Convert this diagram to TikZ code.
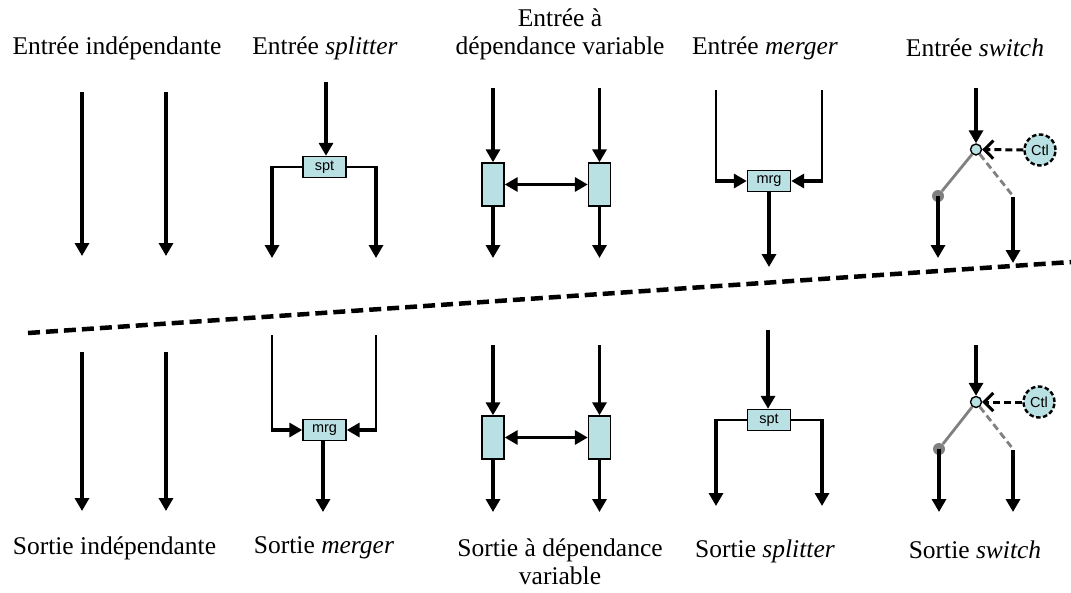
\documentclass[tikz,border=0pt]{standalone}
\usepackage{fontspec}
\setmainfont{Liberation Serif}
\newfontfamily\arialf{Liberation Sans}
\usetikzlibrary{arrows.meta}
\definecolor{boxblue}{RGB}{185,224,226}
\definecolor{swgrey}{RGB}{128,128,128}
\begin{document}
\begin{tikzpicture}[x=1pt,y=-1pt,
  flow/.style={line width=3.8pt,-{Triangle[width=14pt,length=13pt]}},
  wire/.style={line width=2.2pt},
  dflow/.style={line width=3.4pt,{Triangle[width=14pt,length=13pt]}-{Triangle[width=14pt,length=13pt]}},
  blk/.style={draw,line width=1.4pt,fill=boxblue,inner sep=0pt,font=\arialf\fontsize{14.5}{15}\selectfont},
  hblk/.style={blk,minimum width=43pt,minimum height=21pt},
  vblk/.style={blk,minimum width=22pt,minimum height=43pt},
  swc/.style={circle,draw,line width=1.4pt,fill=boxblue,inner sep=0pt,minimum size=11pt},
  ctl/.style={circle,draw,dash pattern=on 4.5pt off 2.5pt,line width=2.4pt,fill=boxblue,inner sep=0pt,minimum size=31pt,font=\arialf\fontsize{14.5}{15}\selectfont},
  gdot/.style={circle,fill=swgrey,inner sep=0pt,minimum size=12pt},
  ctlarrow/.style={line width=3pt,dash pattern=on 7pt off 4pt,-{Straight Barb[length=9pt,width=18pt]}},
  gline/.style={swgrey,line width=2.8pt},
  gdash/.style={swgrey,line width=2.8pt,dash pattern=on 7pt off 4pt},
  lbl/.style={font=\fontsize{25.5}{28}\selectfont,align=center,inner sep=0pt},
]
\useasboundingbox (0,0) rectangle (1071,592);

% ---------- titles ----------
\node[lbl] (t1) at (117,48) {Entrée indépendante};
\node[lbl] (t2) at (325,48) {Entrée \textit{splitter}};
\node[lbl] (t3) at (560,34) {Entrée à\\dépendance variable};
\node[lbl] (t4) at (765,48) {Entrée \textit{merger}};
\node[lbl] (t5) at (975,48) {Entrée \textit{switch}};

\node[lbl] (b1) at (114.5,548) {Sortie indépendante};
\node[lbl] (b2) at (324,548) {Sortie \textit{merger}};
\node[lbl] (b3) at (560,562) {Sortie à dépendance\\variable};
\node[lbl] (b4) at (765,551) {Sortie \textit{splitter}};
\node[lbl] (b5) at (975,550) {Sortie \textit{switch}};

% ---------- separator ----------
\coordinate (sepL) at (28,333);
\coordinate (sepR) at (1071,262);
\draw[line width=4.5pt,dash pattern=on 12pt off 6pt] (sepL) -- (sepR);

% ================= TOP =================
% independent
\coordinate (i1a) at (82,92);  \coordinate (i1b) at (82,256);
\coordinate (i2a) at (166,92); \coordinate (i2b) at (166,256);
\draw[flow] (i1a) -- (i1b);
\draw[flow] (i2a) -- (i2b);

% splitter
\node[hblk] (spt1) at (324.5,167) {spt};
\coordinate (s1in) at (326,82);
\coordinate (s1lc) at (272,167); \coordinate (s1l) at (272,258);
\coordinate (s1rc) at (376,167); \coordinate (s1r) at (376,258);
\draw[flow] (s1in) -- (s1in |- spt1.north);
\draw[wire] (spt1.west) -- ([xshift=-1.9pt]s1lc);
\draw[wire] (spt1.east) -- ([xshift=1.9pt]s1rc);
\draw[flow] ([yshift=-1.1pt]s1lc) -- (s1l);
\draw[flow] ([yshift=-1.1pt]s1rc) -- (s1r);

% variable dependency
\node[vblk] (vd1) at (493,184.5) {};
\node[vblk] (vd2) at (599.5,184.5) {};
\coordinate (v1in) at (493,88);  \coordinate (v1out) at (493,258);
\coordinate (v2in) at (599.5,88); \coordinate (v2out) at (599.5,258);
\draw[flow] (v1in) -- (vd1.north);
\draw[flow] (v2in) -- (vd2.north);
\draw[flow] (vd1.south) -- (v1out);
\draw[flow] (vd2.south) -- (v2out);
\draw[dflow] (vd1.east) -- (vd2.west);

% merger
\node[hblk] (mrg1) at (769,181) {mrg};
\coordinate (m1lt) at (716,90); \coordinate (m1lc) at (716,181);
\coordinate (m1rt) at (822,90); \coordinate (m1rc) at (822,181);
\coordinate (m1out) at (769,267);
\draw[wire] (m1lt) -- ([yshift=1.9pt]m1lc);
\draw[wire] (m1rt) -- ([yshift=1.9pt]m1rc);
\draw[flow] ([xshift=-1.1pt]m1lc) -- (mrg1.west);
\draw[flow] ([xshift=1.1pt]m1rc) -- (mrg1.east);
\draw[flow] (mrg1.south) -- (m1out);

% switch
\node[swc] (sw1) at (976,149.5) {};
\node[ctl] (ctl1) at (1040,150) {Ctl};
\node[gdot] (gd1) at (938,196) {};
\coordinate (sw1r) at (1013,196);
\coordinate (sw1in) at (976,88);
\coordinate (sw1lo) at (938,258);
\coordinate (sw1ro) at (1013,263);
\draw[flow] (sw1in) -- (sw1.north);
\draw[ctlarrow] (ctl1.west) -- (sw1.east);
\draw[gline] (sw1) -- (gd1);
\draw[gdash] (sw1) -- (sw1r);
\draw[flow] (gd1.center) -- (sw1lo);
\draw[flow] ([yshift=-1pt]sw1r) -- (sw1ro);

% ================= BOTTOM =================
% independent
\coordinate (j1a) at (82,352);  \coordinate (j1b) at (82,511);
\coordinate (j2a) at (166,352); \coordinate (j2b) at (166,511);
\draw[flow] (j1a) -- (j1b);
\draw[flow] (j2a) -- (j2b);

% merger
\node[hblk] (mrg2) at (324.5,430) {mrg};
\coordinate (m2lt) at (272,335); \coordinate (m2lc) at (272,430);
\coordinate (m2rt) at (376,335); \coordinate (m2rc) at (376,430);
\coordinate (m2out) at (323,512);
\draw[wire] (m2lt) -- ([yshift=1.9pt]m2lc);
\draw[wire] (m2rt) -- ([yshift=1.9pt]m2rc);
\draw[flow] ([xshift=-1.1pt]m2lc) -- (mrg2.west);
\draw[flow] ([xshift=1.1pt]m2rc) -- (mrg2.east);
\draw[flow] (m2out |- mrg2.south) -- (m2out);

% variable dependency
\node[vblk] (vd3) at (493,437.5) {};
\node[vblk] (vd4) at (599.5,437.5) {};
\coordinate (v3in) at (493,345);  \coordinate (v3out) at (493,512);
\coordinate (v4in) at (599.5,345); \coordinate (v4out) at (599.5,512);
\draw[flow] (v3in) -- (vd3.north);
\draw[flow] (v4in) -- (vd4.north);
\draw[flow] (vd3.south) -- (v3out);
\draw[flow] (vd4.south) -- (v4out);
\draw[dflow] (vd3.east) -- (vd4.west);

% splitter
\node[hblk] (spt2) at (769,420) {spt};
\coordinate (s2in) at (768,330);
\coordinate (s2lc) at (716,420); \coordinate (s2l) at (716,506);
\coordinate (s2rc) at (822,420); \coordinate (s2r) at (822,506);
\draw[flow] (s2in) -- (s2in |- spt2.north);
\draw[wire] (spt2.west) -- ([xshift=-1.9pt]s2lc);
\draw[wire] (spt2.east) -- ([xshift=1.9pt]s2rc);
\draw[flow] ([yshift=-1.1pt]s2lc) -- (s2l);
\draw[flow] ([yshift=-1.1pt]s2rc) -- (s2r);

% switch
\node[swc] (sw2) at (976,402) {};
\node[ctl] (ctl2) at (1039,402) {Ctl};
\node[gdot] (gd2) at (939,449) {};
\coordinate (sw2r) at (1013,449);
\coordinate (sw2in) at (976,345);
\coordinate (sw2lo) at (939,512);
\coordinate (sw2ro) at (1013,512);
\draw[flow] (sw2in) -- (sw2.north);
\draw[ctlarrow] (ctl2.west) -- (sw2.east);
\draw[gline] (sw2) -- (gd2);
\draw[gdash] (sw2) -- (sw2r);
\draw[flow] (gd2.center) -- (sw2lo);
\draw[flow] ([yshift=-1pt]sw2r) -- (sw2ro);
\end{tikzpicture}
\end{document}
